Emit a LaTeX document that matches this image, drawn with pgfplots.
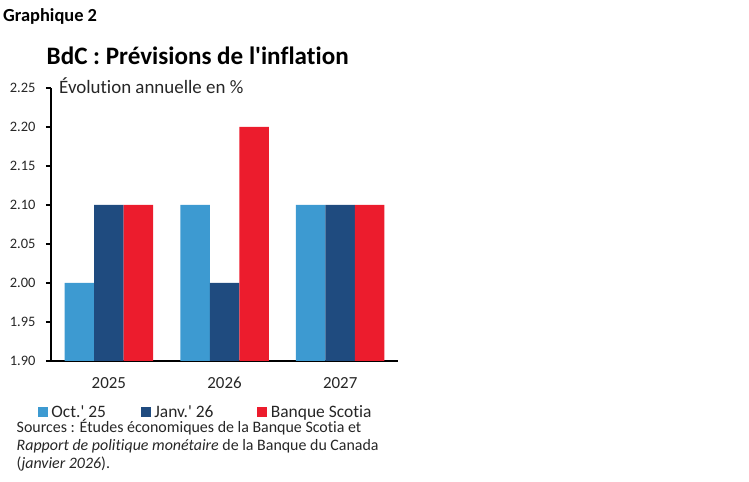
\documentclass[border=0pt]{standalone}
\usepackage{pgfplots}
\pgfplotsset{compat=1.18}
\usepackage{fontspec}
\setmainfont{Carlito}[Ligatures={TeX,NoCommon}]
\definecolor{lblue}{HTML}{3D9AD1}
\definecolor{dblue}{HTML}{1F4B7F}
\definecolor{sred}{HTML}{EC1C2D}
\begin{document}
\begin{tikzpicture}
\path[use as bounding box] (0,0) rectangle (749bp,482bp);
\begin{axis}[
  at={(51bp,121bp)}, anchor=south west,
  scale only axis, width=347bp, height=273bp,
  ybar=0pt, bar width=29.5bp,
  xmin=-0.5, xmax=2.5, ymin=1.90, ymax=2.25,
  axis x line*=bottom, axis y line*=left,
  axis line style={black, line width=1.3bp},
  xtick={0,1,2}, xticklabels={2025,2026,2027},
  major x tick style={draw=none},
  extra x ticks={-0.5,0.5,1.5,2.5}, extra x tick labels={},
  extra x tick style={major tick length=5bp, tick align=outside, major tick style={black, line width=1.2bp}},
  ytick={1.90,1.95,2.00,2.05,2.10,2.15,2.20,2.25},
  yticklabel style={/pgf/number format/fixed, /pgf/number format/fixed zerofill, /pgf/number format/precision=2},
  /pgf/number format/assume math mode=true,
  tick align=outside, major tick length=5bp,
  major y tick style={black, line width=1.2bp},
  tick label style={text=black!85},
  xticklabel style={font=\fontsize{17}{18}\selectfont, yshift=-8bp},
  yticklabel style={font=\fontsize{14.5}{17}\selectfont, xshift=-7bp},
  legend style={at={(-0.0383,-0.187)}, anchor=west, draw=none, fill=none,
    font=\fontsize{17.5}{19}\selectfont, inner sep=0pt,
    nodes={inner sep=1bp, text=black!85},
    /tikz/every odd column/.append style={column sep=2.5bp},
    /tikz/every even column/.append style={column sep=0bp}},
  legend columns=3,
  legend image code/.code={\fill[#1] (0bp,-5bp) rectangle (10bp,5bp);},
]
\addplot[fill=lblue, draw=none] coordinates {(0,2.00) (1,2.10) (2,2.10)};
\addplot[fill=dblue, draw=none] coordinates {(0,2.10) (1,2.00) (2,2.10)};
\addplot[fill=sred, draw=none] coordinates {(0,2.10) (1,2.20) (2,2.10)};
\legend{\makebox[88.5bp][l]{Oct.\textquotesingle\ 25}, \makebox[102bp][l]{Janv.\textquotesingle\ 26}, Banque Scotia}
\end{axis}
\node[anchor=base west, inner sep=0, font=\bfseries\fontsize{18.5}{20}\selectfont] at (3bp,460.3bp) {Graphique 2};
\node[anchor=base west, inner sep=0, font=\bfseries\fontsize{25.2}{28}\selectfont] at (46.5bp,417.7bp) {BdC : Prévisions de l\textquotesingle inflation};
\node[anchor=base west, inner sep=0, text=black!85, font=\fontsize{19}{20}\selectfont] at (59bp,388bp) {Évolution annuelle en \%};
\begin{scope}[every node/.style={anchor=base west, inner sep=0, text=black!85, font=\fontsize{16}{18}\selectfont}]
\node at (16.5bp,49.3bp) {Sources : Études économiques de la Banque Scotia et};
\node at (16.5bp,31.3bp) {\textit{Rapport de politique monétaire} de la Banque du Canada};
\node at (16.5bp,13.3bp) {(\textit{janvier 2026}).};
\end{scope}
\end{tikzpicture}
\end{document}
